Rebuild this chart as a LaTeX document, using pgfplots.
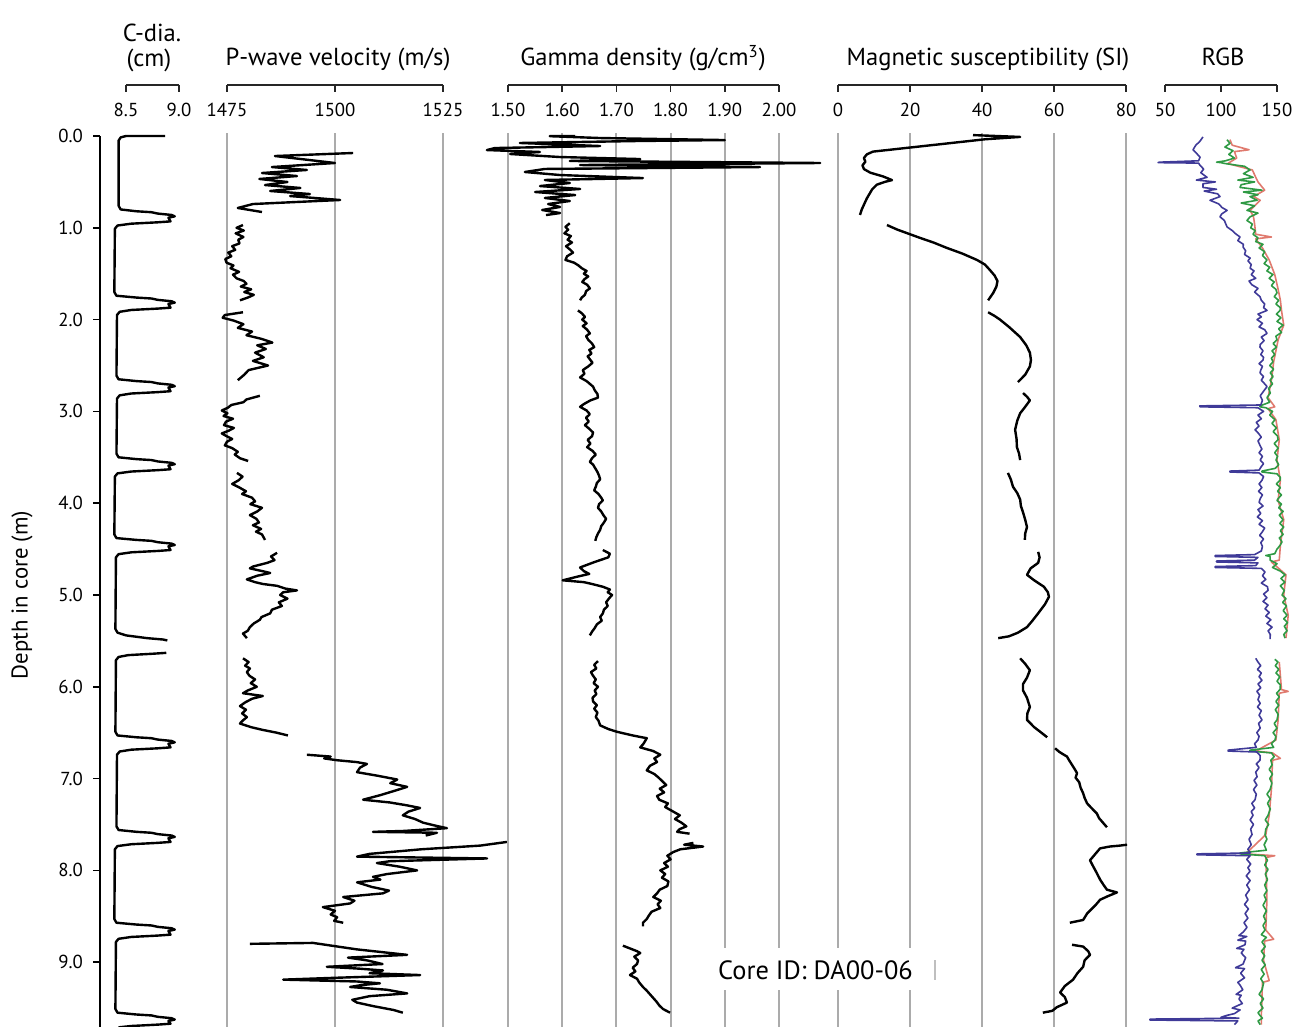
\documentclass[border=0pt]{standalone}
\usepackage{fontspec}
\setmainfont{PT Sans}
\usepackage{pgfplots}
\usepackage{pgfplotstable}
\pgfplotsset{compat=1.18}

\definecolor{gridgray}{HTML}{ABABAB}
\definecolor{rgbblue}{HTML}{3F3A98}
\definecolor{rgbgreen}{HTML}{2F9A44}
\definecolor{rgbred}{HTML}{E07A6E}
\newcommand\titlefont{\fontsize{12.3}{14.5}\selectfont}
\newcommand\labelfont{\fontsize{11.4}{13.7}\selectfont}
\newcommand\tickfont{\fontsize{9.4}{11}\selectfont}

% caliper diameter (cm)
\pgfplotstableread{
d v
0.000 8.87
0.000 8.50
0.015 8.45
0.050 8.43
0.760 8.43
0.800 8.45
0.820 8.60
0.830 8.74
0.845 8.80
0.860 8.93
0.875 8.96
0.890 8.90
0.930 8.92
0.940 8.80
0.955 8.55
0.975 8.42
1.010 8.395
1.700 8.39
1.740 8.41
1.760 8.60
1.770 8.74
1.785 8.80
1.800 8.93
1.815 8.96
1.830 8.90
1.870 8.92
1.880 8.80
1.895 8.55
1.915 8.44
1.950 8.415
2.610 8.41
2.650 8.43
2.670 8.60
2.680 8.74
2.695 8.80
2.710 8.93
2.725 8.96
2.740 8.90
2.780 8.92
2.790 8.80
2.805 8.55
2.825 8.44
2.860 8.415
3.460 8.41
3.500 8.43
3.520 8.60
3.530 8.74
3.545 8.80
3.560 8.93
3.575 8.96
3.590 8.90
3.630 8.92
3.640 8.80
3.655 8.55
3.675 8.42
3.710 8.395
4.340 8.39
4.380 8.41
4.400 8.60
4.410 8.74
4.425 8.80
4.440 8.93
4.455 8.96
4.470 8.90
4.510 8.92
4.520 8.80
4.535 8.55
4.555 8.43
4.590 8.405
5.370 8.40
5.410 8.42
5.440 8.50
5.470 8.70
5.485 8.85
5.495 8.89
nan nan
5.630 8.88
5.640 8.75
5.655 8.52
5.675 8.43
5.710 8.405
6.490 8.40
6.530 8.42
6.550 8.60
6.560 8.74
6.575 8.80
6.590 8.93
6.605 8.96
6.620 8.90
6.660 8.92
6.670 8.80
6.685 8.55
6.705 8.44
6.740 8.415
7.520 8.41
7.560 8.43
7.580 8.60
7.590 8.74
7.605 8.80
7.620 8.93
7.635 8.96
7.650 8.90
7.690 8.92
7.700 8.80
7.715 8.55
7.735 8.42
7.770 8.395
8.530 8.39
8.570 8.41
8.590 8.60
8.600 8.74
8.615 8.80
8.630 8.93
8.645 8.96
8.660 8.90
8.700 8.92
8.710 8.80
8.725 8.55
8.745 8.43
8.780 8.405
9.510 8.40
9.550 8.42
9.570 8.60
9.580 8.74
9.595 8.80
9.610 8.93
9.625 8.96
9.640 8.90
9.670 8.92
9.680 8.80
9.695 8.55
9.710 8.43
}\cdia

% P-wave velocity (m/s)
\pgfplotstableread{
d v
0.185 1504.2
0.218 1486.1
0.294 1500.0
0.338 1485.4
0.370 1493.5
0.403 1483.1
0.436 1491.2
0.468 1482.5
0.501 1489.0
0.534 1483.8
0.566 1492.0
0.599 1485.0
0.632 1494.2
0.654 1489.6
0.697 1501.2
0.720 1490.5
0.741 1481.0
0.784 1477.5
0.828 1483.1
nan nan
0.97 1478.7
1.00 1477.2
1.03 1478.9
1.06 1477.0
1.10 1478.8
1.13 1477.6
1.17 1477.9
1.20 1476.2
1.24 1476.9
1.27 1475.3
1.31 1476.0
1.34 1474.6
1.38 1474.9
1.41 1476.5
1.44 1475.8
1.48 1477.8
1.51 1476.4
1.55 1477.2
1.58 1478.9
1.61 1479.5
1.64 1478.2
1.67 1480.6
1.70 1479.0
1.73 1481.2
1.76 1479.8
1.79 1478.0
nan nan
1.92 1478.7
1.95 1474.5
1.98 1474.0
2.01 1476.5
2.05 1478.8
2.09 1477.5
2.13 1480.8
2.17 1479.5
2.21 1483.0
2.25 1485.5
2.28 1482.0
2.32 1484.0
2.36 1481.5
2.41 1483.5
2.45 1481.0
2.50 1484.5
2.55 1480.0
2.60 1479.0
2.66 1477.5
nan nan
2.83 1482.6
2.87 1479.5
2.90 1478.8
2.93 1476.0
2.96 1475.2
2.99 1473.8
3.02 1475.1
3.05 1474.2
3.08 1476.4
3.11 1474.8
3.15 1474.3
3.18 1476.6
3.21 1475.4
3.24 1473.8
3.27 1474.9
3.30 1476.2
3.33 1475.0
3.37 1474.5
3.40 1476.2
3.44 1477.5
3.47 1476.8
3.51 1478.0
3.54 1479.9
nan nan
3.67 1477.3
3.71 1478.6
3.75 1477.7
3.79 1476.2
3.83 1477.9
3.87 1479.4
3.90 1478.5
3.94 1480.8
3.98 1481.5
4.01 1480.4
4.05 1483.1
4.09 1482.0
4.13 1480.3
4.17 1481.8
4.21 1482.4
4.24 1481.0
4.28 1482.9
4.31 1481.7
4.34 1483.1
4.40 1483.8
nan nan
4.54 1486.6
4.58 1485.2
4.62 1486.0
4.65 1484.3
4.69 1481.0
4.71 1480.3
4.74 1483.2
4.76 1485.0
4.79 1482.0
4.83 1479.6
4.86 1481.5
4.88 1483.3
4.90 1486.6
4.93 1488.5
4.95 1491.2
4.97 1488.0
5.00 1487.3
5.04 1489.0
5.08 1487.0
5.12 1487.7
5.16 1485.4
5.20 1485.0
5.24 1483.0
5.27 1482.6
5.31 1481.2
5.35 1480.3
5.39 1479.8
5.42 1478.7
5.47 1479.6
nan nan
5.69 1478.7
5.73 1480.0
5.77 1479.2
5.80 1480.3
5.84 1479.6
5.88 1480.2
5.92 1481.5
5.96 1480.5
6.00 1481.9
6.04 1479.8
6.07 1478.7
6.10 1483.3
6.13 1480.8
6.17 1479.2
6.21 1478.0
6.25 1479.4
6.29 1478.5
6.33 1479.6
6.37 1478.6
6.40 1478.0
6.44 1480.6
6.47 1483.3
6.50 1486.5
6.53 1489.1
nan nan
6.74 1493.5
6.76 1499.0
6.78 1497.5
6.80 1500.5
6.82 1505.0
6.84 1507.4
6.88 1505.8
6.93 1505.1
6.97 1510.0
7.01 1514.4
7.05 1512.8
7.09 1516.7
7.13 1514.0
7.18 1510.5
7.23 1506.5
7.26 1512.7
7.29 1516.5
7.32 1519.7
7.36 1517.0
7.40 1515.7
7.44 1518.5
7.48 1520.4
7.51 1523.0
7.54 1525.9
7.57 1516.0
7.58 1508.8
7.59 1523.6
7.62 1521.0
nan nan
7.69 1539.8
7.73 1533.6
7.77 1520.0
7.82 1508.0
7.85 1505.1
7.87 1535.2
7.90 1512.7
7.92 1509.7
7.96 1515.0
8.00 1519.0
8.04 1512.0
8.07 1508.8
8.10 1510.5
8.13 1505.1
8.18 1508.5
8.22 1512.5
8.25 1511.1
8.29 1501.9
8.33 1504.5
8.36 1503.5
8.40 1497.2
8.44 1500.0
8.48 1499.0
8.51 1500.5
8.55 1499.8
8.57 1501.9
nan nan
8.80 1480.3
8.79 1494.9
8.86 1505.0
8.92 1516.7
8.95 1503.0
8.98 1507.4
9.02 1511.0
9.05 1498.1
9.07 1505.5
9.09 1511.1
9.12 1508.0
9.14 1519.7
9.17 1500.0
9.19 1488.0
9.21 1505.0
9.23 1510.4
9.25 1506.0
9.27 1503.5
9.30 1512.0
9.34 1516.7
9.37 1508.0
9.41 1504.0
9.44 1505.1
9.48 1509.0
9.52 1513.5
9.55 1515.7
}\pwave

% gamma density (g/cm3)
\pgfplotstableread{
d v
0.000 1.624
0.002 1.577
0.022 1.670
0.044 1.900
0.054 1.744
0.076 1.522
0.109 1.670
0.131 1.476
0.153 1.461
0.174 1.559
0.196 1.504
0.229 1.596
0.251 1.744
0.272 1.614
0.294 2.076
0.316 1.633
0.338 1.965
0.359 1.568
0.392 1.531
0.425 1.596
0.458 1.749
0.479 1.568
0.512 1.614
0.545 1.559
0.577 1.633
0.610 1.550
0.643 1.624
0.675 1.568
0.708 1.614
0.741 1.574
0.773 1.596
0.806 1.563
0.839 1.596
0.861 1.570
nan nan
0.95 1.614
0.99 1.606
1.02 1.611
1.06 1.604
1.09 1.616
1.13 1.610
1.16 1.618
1.20 1.607
1.24 1.615
1.27 1.620
1.31 1.609
1.35 1.606
1.38 1.622
1.41 1.630
1.44 1.636
1.47 1.645
1.50 1.640
1.53 1.648
1.56 1.641
1.59 1.637
1.62 1.646
1.66 1.651
1.69 1.644
1.73 1.642
1.76 1.636
1.79 1.633
nan nan
1.90 1.629
1.93 1.636
1.97 1.642
2.00 1.637
2.04 1.645
2.07 1.638
2.11 1.646
2.15 1.651
2.18 1.644
2.22 1.648
2.26 1.655
2.30 1.659
2.33 1.650
2.37 1.654
2.40 1.647
2.44 1.652
2.47 1.656
2.51 1.648
2.55 1.638
2.59 1.641
2.63 1.633
2.67 1.645
2.70 1.651
2.73 1.657
2.77 1.660
2.81 1.665
2.85 1.666
2.88 1.652
2.92 1.640
2.95 1.633
2.99 1.645
3.03 1.651
3.07 1.644
3.11 1.649
3.15 1.642
3.19 1.650
3.23 1.657
3.27 1.655
3.31 1.647
3.35 1.652
3.39 1.646
3.43 1.656
3.47 1.662
3.51 1.655
3.55 1.651
3.58 1.657
3.62 1.661
3.66 1.665
3.70 1.668
3.74 1.670
3.78 1.664
3.82 1.662
3.86 1.659
3.90 1.667
3.94 1.672
3.97 1.675
4.01 1.668
4.05 1.666
4.09 1.672
4.13 1.676
4.17 1.681
4.21 1.677
4.25 1.672
4.29 1.670
4.33 1.666
4.37 1.663
4.41 1.661
nan nan
4.51 1.675
4.55 1.688
4.59 1.685
4.64 1.660
4.70 1.633
4.74 1.640
4.77 1.650
4.80 1.628
4.84 1.601
4.86 1.640
4.88 1.655
4.91 1.675
4.94 1.688
4.97 1.684
5.00 1.692
5.04 1.686
5.08 1.681
5.12 1.684
5.16 1.677
5.20 1.675
5.24 1.670
5.28 1.673
5.32 1.664
5.36 1.660
5.40 1.655
5.44 1.651
nan nan
5.72 1.666
5.76 1.659
5.80 1.663
5.84 1.653
5.88 1.657
5.92 1.662
5.96 1.658
6.00 1.666
6.04 1.660
6.08 1.663
6.12 1.656
6.16 1.657
6.20 1.664
6.24 1.659
6.28 1.665
6.33 1.662
6.37 1.667
6.42 1.670
6.46 1.685
6.49 1.701
6.53 1.730
6.56 1.756
6.62 1.750
6.66 1.744
6.70 1.768
6.74 1.781
6.78 1.770
6.82 1.775
6.86 1.762
6.91 1.756
6.95 1.770
6.99 1.778
7.03 1.785
7.07 1.792
7.11 1.780
7.15 1.788
7.19 1.775
7.23 1.779
7.27 1.795
7.31 1.790
7.36 1.805
7.40 1.817
7.44 1.808
7.48 1.820
7.52 1.829
7.55 1.817
7.58 1.812
7.60 1.835
nan nan
7.70 1.842
7.72 1.825
7.74 1.860
7.77 1.818
7.80 1.805
7.84 1.794
7.88 1.800
7.92 1.788
7.96 1.795
8.00 1.781
8.04 1.790
8.08 1.784
8.12 1.796
8.17 1.794
8.21 1.780
8.25 1.775
8.29 1.768
8.33 1.782
8.37 1.776
8.41 1.781
8.45 1.765
8.49 1.760
8.53 1.756
8.57 1.749
8.61 1.749
nan nan
8.82 1.712
8.85 1.725
8.88 1.738
8.90 1.744
8.94 1.733
8.98 1.740
9.02 1.738
9.06 1.730
9.10 1.735
9.14 1.725
9.18 1.738
9.22 1.742
9.27 1.749
9.31 1.756
9.35 1.762
9.39 1.768
9.43 1.774
9.47 1.779
9.51 1.786
9.55 1.799
}\gdens

% magnetic susceptibility (SI)
\pgfplotstableread{
d v
-0.01 37.5
0.01 50.6
0.035 41.0
0.17 9.7
0.20 8.0
0.24 7.2
0.28 7.6
0.32 6.8
0.36 7.2
0.40 9.0
0.44 12.5
0.48 15.0
0.50 13.0
0.53 10.8
0.58 9.5
0.62 8.9
0.68 8.0
0.74 7.3
0.80 6.6
0.86 6.1
nan nan
0.97 13.6
1.02 16.5
1.07 20.0
1.11 22.8
1.16 26.5
1.22 30.3
1.28 34.5
1.35 38.6
1.40 40.8
1.46 42.2
1.52 43.5
1.58 44.3
1.64 44.0
1.71 43.1
1.79 41.7
nan nan
1.92 41.7
1.96 43.5
2.00 45.0
2.08 47.5
2.19 50.6
2.28 52.3
2.36 53.3
2.44 53.6
2.51 53.3
2.60 52.0
2.68 50.0
nan nan
2.80 51.4
2.84 52.5
2.88 53.3
2.95 52.0
3.02 50.6
3.10 49.8
3.20 49.2
3.30 49.6
3.39 49.7
3.46 50.3
3.53 50.6
nan nan
3.67 47.2
3.74 48.0
3.82 48.6
3.89 49.8
3.96 50.6
4.03 50.8
4.10 51.4
4.18 52.0
4.26 52.5
4.33 52.0
4.40 51.9
nan nan
4.53 55.6
4.59 56.0
4.65 55.6
4.71 53.5
4.78 52.5
4.84 54.5
4.91 57.2
4.97 58.3
5.02 58.6
5.10 57.5
5.20 55.6
5.28 54.0
5.35 52.5
5.41 50.0
5.45 47.5
5.47 44.5
nan nan
5.69 50.6
5.75 52.0
5.82 53.3
5.90 52.5
5.97 51.4
6.04 51.4
6.12 52.5
6.22 53.3
6.29 52.6
6.36 52.5
6.44 54.5
6.50 56.5
6.55 58.1
nan nan
6.67 60.3
6.71 61.5
6.76 63.6
6.80 64.2
6.85 65.0
6.90 65.8
6.94 66.4
6.99 66.0
7.04 67.0
7.10 67.4
7.16 68.1
7.21 68.5
7.27 69.2
7.32 70.4
7.38 71.9
7.43 72.5
7.48 73.6
7.53 74.7
nan nan
7.72 80.3
7.73 78.3
7.74 75.5
7.76 72.8
7.82 71.5
7.89 70.0
7.95 70.8
8.03 71.9
8.10 72.8
8.16 73.8
8.21 74.7
8.24 77.5
8.28 75.0
8.32 72.8
8.38 71.5
8.47 69.2
8.54 68.1
8.57 64.4
nan nan
8.81 65.0
8.83 68.1
8.88 69.5
8.92 70.0
8.98 68.5
9.05 68.1
9.12 66.5
9.19 65.3
9.26 63.0
9.33 61.7
9.38 63.0
9.44 63.6
9.49 60.8
9.53 59.5
9.55 56.9
}\magsus

% RGB: blue channel
\pgfplotstableread{
d v
0.01 83.9
0.06 81.0
0.10 77.5
0.15 75.0
0.20 79.0
0.23 81.3
0.27 80.0
0.285 45.0
0.29 43.8
0.295 80.0
0.32 81.3
0.36 84.5
0.40 82.0
0.45 87.5
0.48 78.0
0.50 95.0
0.52 83.9
0.56 83.9
0.58 96.0
0.60 85.0
0.63 97.0
0.66 99.1
0.70 90.2
0.74 98.0
0.78 101.0
0.81 105.4
0.85 100.5
0.88 99.1
0.92 103.0
0.95 104.0
0.99 105.4
1.03 110.0
1.06 112.5
1.10 117.0
1.14 115.0
1.18 120.0
1.21 119.7
1.25 122.0
1.29 121.0
1.33 126.0
1.36 124.0
1.40 127.0
1.44 126.0
1.47 129.5
1.51 127.0
1.55 131.0
1.58 125.0
1.62 127.5
1.66 133.0
1.70 130.0
1.75 134.8
1.79 136.0
1.83 139.0
1.87 138.0
1.90 141.1
1.94 133.0
1.97 136.0
2.00 132.2
2.04 137.0
2.08 134.0
2.11 139.0
2.15 141.1
2.19 136.0
2.23 138.5
2.27 135.0
2.30 134.8
2.34 137.5
2.38 135.5
2.41 138.0
2.44 137.5
2.48 134.0
2.51 137.0
2.55 135.5
2.58 134.8
2.62 138.0
2.66 136.0
2.70 139.0
2.73 141.1
2.78 138.0
2.83 135.0
2.88 137.0
2.93 135.5
2.94 81.0
2.95 81.3
2.96 133.0
3.00 138.0
3.04 133.0
3.08 136.0
3.12 131.5
3.16 134.0
3.20 130.4
3.24 133.5
3.28 136.0
3.32 133.0
3.37 134.8
3.41 136.5
3.45 134.0
3.49 137.0
3.53 135.0
3.57 138.0
3.60 136.0
3.64 134.0
3.65 108.0
3.66 108.0
3.67 134.0
3.71 138.0
3.75 136.6
3.79 134.0
3.83 136.5
3.87 133.5
3.91 137.0
3.95 135.0
3.99 134.0
4.03 137.5
4.07 133.0
4.11 135.5
4.15 132.5
4.19 137.0
4.23 134.0
4.27 139.0
4.31 137.0
4.35 134.5
4.39 138.0
4.43 135.5
4.47 137.0
4.52 136.0
4.56 130.0
4.57 94.7
4.58 94.7
4.59 133.0
4.62 130.0
4.63 96.0
4.64 96.0
4.65 133.0
4.68 131.0
4.69 94.7
4.70 94.7
4.71 136.0
4.75 139.3
4.79 137.0
4.83 140.0
4.87 136.0
4.91 141.5
4.95 142.0
4.99 138.0
5.03 141.0
5.07 137.5
5.11 142.0
5.15 139.3
5.19 143.0
5.23 140.0
5.27 144.5
5.31 141.0
5.35 145.6
5.39 142.0
5.43 144.0
5.48 143.8
nan nan
5.69 131.0
5.73 133.0
5.77 135.5
5.81 132.5
5.85 136.0
5.89 134.0
5.93 136.6
5.97 133.0
6.01 135.5
6.05 132.0
6.09 134.5
6.14 133.0
6.18 135.0
6.22 132.5
6.26 136.0
6.31 134.0
6.36 136.6
6.40 133.5
6.45 135.0
6.50 132.0
6.54 134.0
6.58 133.0
6.62 130.0
6.66 131.5
6.69 106.3
6.70 106.3
6.71 132.0
6.75 135.0
6.80 134.8
6.84 131.5
6.88 134.0
6.93 131.0
6.98 132.2
7.02 129.5
7.07 132.0
7.12 129.0
7.17 131.5
7.23 130.4
7.27 127.5
7.32 130.0
7.36 127.0
7.40 128.6
7.45 126.0
7.50 129.0
7.55 126.5
7.61 127.7
7.66 125.0
7.72 127.0
7.77 124.0
7.81 126.0
7.82 78.6
7.83 78.6
7.84 126.0
7.88 123.0
7.93 126.5
7.97 124.0
8.01 125.9
8.06 122.5
8.11 126.0
8.16 123.0
8.21 125.5
8.27 122.0
8.32 124.1
8.37 121.0
8.42 124.5
8.47 121.5
8.52 124.0
8.57 120.5
8.62 123.2
8.67 120.0
8.71 116.0
8.72 123.0
8.76 115.0
8.77 122.0
8.81 121.4
8.85 114.0
8.86 120.5
8.90 118.0
8.95 122.0
9.02 119.7
9.06 113.0
9.07 121.0
9.12 117.5
9.17 121.0
9.22 115.0
9.25 117.0
9.30 119.5
9.35 113.5
9.36 118.0
9.40 116.0
9.45 119.0
9.50 110.0
9.52 117.0
9.56 112.0
9.58 105.0
9.60 100.0
9.61 116.0
9.62 36.6
9.63 36.6
9.64 115.0
9.68 112.0
}\rgbB

% RGB: green channel
\pgfplotstableread{
d v
0.04 105.4
0.08 108.0
0.12 103.5
0.16 110.7
0.20 107.0
0.24 112.0
0.27 104.0
0.285 96.0
0.29 100.0
0.30 103.6
0.33 121.0
0.37 125.9
0.41 120.0
0.45 128.6
0.48 115.0
0.50 130.0
0.53 118.0
0.56 117.0
0.59 136.6
0.61 120.0
0.64 133.0
0.66 125.9
0.70 132.2
0.73 118.0
0.76 130.0
0.81 123.2
0.84 133.0
0.88 126.0
0.92 123.2
0.96 128.0
1.00 126.5
1.03 130.5
1.07 128.6
1.11 133.0
1.15 131.0
1.18 137.5
1.22 134.0
1.26 139.0
1.30 137.0
1.35 141.1
1.39 138.5
1.43 143.5
1.47 141.0
1.51 146.4
1.55 143.0
1.59 147.5
1.63 145.0
1.67 149.0
1.71 150.0
1.75 147.5
1.79 151.5
1.83 149.0
1.87 153.0
1.90 152.7
1.94 149.5
1.98 153.5
2.02 150.0
2.06 155.4
2.10 151.5
2.14 154.0
2.18 149.0
2.22 150.0
2.26 146.5
2.30 149.5
2.34 145.5
2.38 148.0
2.42 145.0
2.46 146.4
2.50 143.5
2.54 147.0
2.58 144.0
2.62 146.5
2.66 143.8
2.70 146.0
2.75 142.5
2.80 144.0
2.85 141.0
2.90 143.5
2.94 134.8
2.95 134.8
2.96 140.0
3.00 146.0
3.04 143.5
3.09 148.2
3.13 145.5
3.18 149.5
3.22 146.5
3.27 150.5
3.31 150.9
3.35 147.5
3.40 151.0
3.45 148.0
3.49 150.5
3.53 149.1
3.58 151.5
3.62 148.5
3.65 136.6
3.66 136.6
3.68 150.0
3.72 153.0
3.75 152.7
3.79 149.5
3.83 153.0
3.87 150.5
3.91 154.0
3.95 151.0
3.97 150.0
4.01 154.0
4.05 151.5
4.09 155.5
4.13 152.0
4.18 155.4
4.22 152.5
4.26 156.0
4.30 153.0
4.34 155.5
4.38 152.0
4.42 154.5
4.46 152.7
4.50 150.0
4.55 148.0
4.57 140.0
4.58 143.8
4.62 143.8
4.66 150.0
4.70 146.0
4.74 153.0
4.78 157.2
4.82 153.5
4.86 157.0
4.90 153.0
4.95 156.5
5.00 154.5
5.04 158.0
5.08 155.0
5.12 158.5
5.17 155.5
5.22 159.0
5.26 156.0
5.30 159.5
5.34 156.5
5.39 159.0
5.43 156.0
5.47 157.2
nan nan
5.70 148.0
5.73 150.9
5.77 148.5
5.81 151.5
5.85 149.0
5.89 152.5
5.94 150.0
5.98 153.0
6.03 152.7
6.07 149.5
6.11 152.0
6.16 149.0
6.20 151.5
6.25 148.5
6.30 151.0
6.36 150.0
6.40 147.5
6.45 150.0
6.50 146.5
6.54 149.0
6.58 148.2
6.62 145.0
6.66 147.0
6.69 125.9
6.70 125.9
6.72 145.0
6.76 147.5
6.80 144.5
6.85 145.6
6.90 143.0
6.95 146.0
7.00 143.5
7.05 145.5
7.12 143.8
7.17 141.0
7.22 144.0
7.27 141.5
7.33 144.0
7.40 142.0
7.45 139.5
7.50 142.5
7.55 140.0
7.61 139.3
7.66 141.0
7.72 138.5
7.78 140.5
7.81 117.0
7.82 117.0
7.84 139.0
7.89 141.5
7.94 139.0
7.99 142.0
8.04 139.5
8.10 141.5
8.16 139.0
8.22 141.0
8.27 138.5
8.32 140.2
8.38 137.5
8.44 140.5
8.50 138.0
8.55 140.0
8.60 137.5
8.65 139.3
8.70 136.0
8.73 140.5
8.78 136.5
8.83 139.5
8.88 136.0
8.93 139.0
8.98 136.6
9.03 139.5
9.08 136.0
9.13 138.5
9.18 135.5
9.23 138.0
9.30 136.6
9.35 134.0
9.40 138.0
9.45 135.0
9.50 137.5
9.55 133.0
9.58 134.8
9.61 137.0
9.64 133.0
9.68 135.0
}\rgbG

% RGB: red channel
\pgfplotstableread{
d v
0.04 108
0.10 110
0.15 125
0.17 112
0.24 114
0.30 106
0.37 128
0.45 131
0.50 133
0.59 139
0.66 129
0.70 135
0.81 126
0.88 129
0.96 130
1.07 131
1.10 145
1.12 131
1.22 137
1.35 143
1.51 148
1.67 151
1.79 153
1.90 154
2.06 156
2.22 151
2.46 147
2.66 145
2.85 142
2.95 148
2.97 142
3.09 149
3.31 152
3.53 150
3.75 153
3.97 151
4.18 156
4.46 153
4.62 152
4.64 145
4.78 158
5.00 156
5.22 160
5.47 158
nan nan
5.73 152
6.03 154
6.05 160
6.07 152
6.36 151
6.58 149
6.70 131
6.72 146
6.78 153
6.80 146
7.12 145
7.40 143
7.61 140
7.82 122
7.84 148
7.86 140
8.32 141
8.65 140
8.75 147
8.77 139
8.98 138
9.20 143
9.22 137
9.58 136
9.68 136
}\rgbR

\pgfplotsset{
  /pgf/number format/assume math mode=true,
  /pgf/number format/1000 sep={},
  logpanel/.style={
    scale only axis, height=471pt, anchor=north west,
    ymin=-0.5556, ymax=9.706, y dir=reverse,
    axis x line*=top, axis y line=none,
    axis line style={-, line width=0.8pt, black!85},
    xtick align=inside, major tick length=3.5pt,
    every tick/.style={line width=0.8pt, black!85},
    xticklabel style={anchor=north, yshift=-5.5pt, font=\tickfont},
    clip=false, unbounded coords=jump,
  },
  curve/.style={black, line width=1.2pt, line join=round},
  gridl/.style={gridgray, line width=1pt},
  chan/.style={line width=0.8pt, line join=round},
}

\begin{document}
\begin{tikzpicture}
\useasboundingbox (0,0) rectangle (647.5pt,-513.5pt);

% depth axis
\begin{axis}[scale only axis, width=1pt, height=445.5pt,
  at={(50pt,-68pt)}, anchor=north west,
  xmin=0, xmax=1, ymin=0, ymax=9.706, y dir=reverse,
  axis y line=left, axis x line=none,
  axis line style={-, line width=0.8pt, black},
  ytick={0,1,...,9}, ytick align=outside, major tick length=3.5pt,
  every tick/.style={line width=0.8pt, black},
  yticklabel={\pgfmathprintnumber[fixed,fixed zerofill,precision=1]{\tick}},
  yticklabel style={font=\tickfont, anchor=east, xshift=-1.5pt}]
\addplot[draw=none] coordinates {(0,0)};
\end{axis}
\node[rotate=90, font=\labelfont] at (11pt,-297.5pt) {Depth in core (m)};

% caliper
\begin{axis}[logpanel, at={(63pt,-42.5pt)}, width=26.5pt,
  xmin=8.5, xmax=9.0, xtick={8.5,9.0},
  xticklabel={\pgfmathprintnumber[fixed,fixed zerofill,precision=1]{\tick}}]
\addplot[curve] table[x=v, y=d] {\cdia};
\end{axis}

% P-wave
\begin{axis}[logpanel, at={(113.5pt,-42.5pt)}, width=108pt,
  xmin=1475, xmax=1525, xtick={1475,1500,1525}]
\pgfplotsinvokeforeach{1475,1500,1525}{
  \addplot[gridl] coordinates {(#1,-0.03) (#1,9.706)};
}
\addplot[curve] table[x=v, y=d] {\pwave};
\end{axis}

% gamma density
\begin{axis}[logpanel, at={(254pt,-42.5pt)}, width=135.5pt,
  xmin=1.5, xmax=2.0, xtick={1.5,1.6,1.7,1.8,1.9,2.0},
  xticklabel={\pgfmathprintnumber[fixed,fixed zerofill,precision=2]{\tick}}]
\pgfplotsinvokeforeach{1.5,1.6,1.7,1.8,1.9,2.0}{
  \addplot[gridl] coordinates {(#1,-0.03) (#1,9.706)};
}
\addplot[curve] table[x=v, y=d] {\gdens};
\end{axis}

% magnetic susceptibility
\begin{axis}[logpanel, at={(419pt,-42.5pt)}, width=144pt,
  xmin=0, xmax=80, xtick={0,20,40,60,80}]
\pgfplotsinvokeforeach{0,20,40,60,80}{
  \addplot[gridl] coordinates {(#1,-0.03) (#1,9.706)};
}
\addplot[curve] table[x=v, y=d] {\magsus};
\end{axis}

% RGB
\begin{axis}[logpanel, at={(582.5pt,-42.5pt)}, width=56pt,
  xmin=50, xmax=150, xtick={50,100,150}]
\addplot[chan, rgbred] table[x=v, y=d] {\rgbR};
\addplot[chan, rgbgreen] table[x=v, y=d] {\rgbG};
\addplot[chan, rgbblue] table[x=v, y=d] {\rgbB};
\end{axis}

% titles
\node[font=\titlefont, anchor=base] at (76pt,-21pt) {C-dia.};
\node[font=\titlefont, anchor=base] at (74.5pt,-33.3pt) {(cm)};
\node[font=\titlefont, anchor=base] at (169pt,-33pt) {P-wave velocity (m/s)};
\node[font=\titlefont, anchor=base] at (321.5pt,-33pt) {Gamma density (g/cm\textsuperscript{3})};
\node[font=\titlefont, anchor=base] at (494pt,-33pt) {Magnetic susceptibility (SI)};
\node[font=\titlefont, anchor=base] at (611.5pt,-33pt) {RGB};

% core label
\fill[white] (352pt,-474pt) rectangle (466pt,-495pt);
\node[font=\fontsize{13.2}{15}\selectfont, anchor=base] at (407.75pt,-489.5pt) {Core ID: DA00-06};
\draw[black!25, line width=0.6pt] (467.5pt,-480pt) -- (467.5pt,-490pt);
\end{tikzpicture}
\end{document}
